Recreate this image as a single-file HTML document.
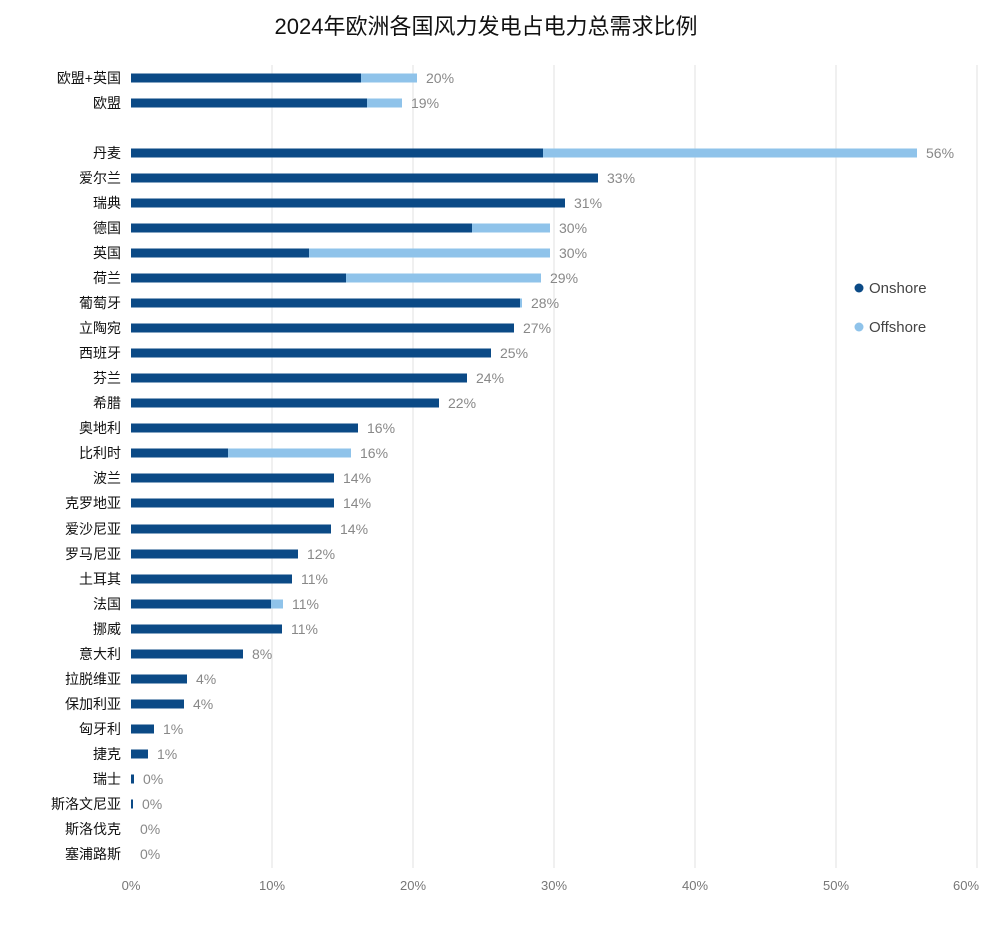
<!DOCTYPE html>
<html><head><meta charset="utf-8"><style>
body{margin:0;background:#fff;}
svg text{font-family:"Liberation Sans","Noto Sans CJK SC",sans-serif;}
.n{font-size:14px;fill:#111;text-anchor:end}
.v{font-size:14px;fill:#888}
</style></head><body>
<svg width="1000" height="922" xmlns="http://www.w3.org/2000/svg">
<text x="486" y="34" font-size="22" text-anchor="middle" fill="#111">2024年欧洲各国风力发电占电力总需求比例</text>
<g stroke="#e2e2e2" stroke-width="1">
<line x1="272" y1="65" x2="272" y2="868"/><line x1="413" y1="65" x2="413" y2="868"/><line x1="554" y1="65" x2="554" y2="868"/><line x1="695" y1="65" x2="695" y2="868"/><line x1="836" y1="65" x2="836" y2="868"/><line x1="977" y1="65" x2="977" y2="868"/>
</g>
<g font-size="13" fill="#777" text-anchor="middle">
<text x="131" y="890">0%</text><text x="272" y="890">10%</text><text x="413" y="890">20%</text><text x="554" y="890">30%</text><text x="695" y="890">40%</text><text x="836" y="890">50%</text><text x="966" y="890">60%</text>
</g>
<g transform="translate(0,78)"><text class="n" x="121" y="5">欧盟+英国</text><rect x="131" y="-4.5" width="286" height="9" fill="#8fc3ea"/><rect x="131" y="-4.5" width="230" height="9" fill="#0b4a86"/><text class="v" x="426" y="5">20%</text></g>
<g transform="translate(0,103)"><text class="n" x="121" y="5">欧盟</text><rect x="131" y="-4.5" width="271" height="9" fill="#8fc3ea"/><rect x="131" y="-4.5" width="236" height="9" fill="#0b4a86"/><text class="v" x="411" y="5">19%</text></g>
<g transform="translate(0,153)"><text class="n" x="121" y="5">丹麦</text><rect x="131" y="-4.5" width="786" height="9" fill="#8fc3ea"/><rect x="131" y="-4.5" width="412" height="9" fill="#0b4a86"/><text class="v" x="926" y="5">56%</text></g>
<g transform="translate(0,178)"><text class="n" x="121" y="5">爱尔兰</text><rect x="131" y="-4.5" width="467" height="9" fill="#0b4a86"/><text class="v" x="607" y="5">33%</text></g>
<g transform="translate(0,203)"><text class="n" x="121" y="5">瑞典</text><rect x="131" y="-4.5" width="434" height="9" fill="#0b4a86"/><text class="v" x="574" y="5">31%</text></g>
<g transform="translate(0,228)"><text class="n" x="121" y="5">德国</text><rect x="131" y="-4.5" width="419" height="9" fill="#8fc3ea"/><rect x="131" y="-4.5" width="341" height="9" fill="#0b4a86"/><text class="v" x="559" y="5">30%</text></g>
<g transform="translate(0,253)"><text class="n" x="121" y="5">英国</text><rect x="131" y="-4.5" width="419" height="9" fill="#8fc3ea"/><rect x="131" y="-4.5" width="178" height="9" fill="#0b4a86"/><text class="v" x="559" y="5">30%</text></g>
<g transform="translate(0,278)"><text class="n" x="121" y="5">荷兰</text><rect x="131" y="-4.5" width="410" height="9" fill="#8fc3ea"/><rect x="131" y="-4.5" width="215" height="9" fill="#0b4a86"/><text class="v" x="550" y="5">29%</text></g>
<g transform="translate(0,303)"><text class="n" x="121" y="5">葡萄牙</text><rect x="131" y="-4.5" width="391" height="9" fill="#8fc3ea"/><rect x="131" y="-4.5" width="389" height="9" fill="#0b4a86"/><text class="v" x="531" y="5">28%</text></g>
<g transform="translate(0,328)"><text class="n" x="121" y="5">立陶宛</text><rect x="131" y="-4.5" width="383" height="9" fill="#0b4a86"/><text class="v" x="523" y="5">27%</text></g>
<g transform="translate(0,353)"><text class="n" x="121" y="5">西班牙</text><rect x="131" y="-4.5" width="360" height="9" fill="#0b4a86"/><text class="v" x="500" y="5">25%</text></g>
<g transform="translate(0,378)"><text class="n" x="121" y="5">芬兰</text><rect x="131" y="-4.5" width="336" height="9" fill="#0b4a86"/><text class="v" x="476" y="5">24%</text></g>
<g transform="translate(0,403)"><text class="n" x="121" y="5">希腊</text><rect x="131" y="-4.5" width="308" height="9" fill="#0b4a86"/><text class="v" x="448" y="5">22%</text></g>
<g transform="translate(0,428)"><text class="n" x="121" y="5">奥地利</text><rect x="131" y="-4.5" width="227" height="9" fill="#0b4a86"/><text class="v" x="367" y="5">16%</text></g>
<g transform="translate(0,453)"><text class="n" x="121" y="5">比利时</text><rect x="131" y="-4.5" width="220" height="9" fill="#8fc3ea"/><rect x="131" y="-4.5" width="97" height="9" fill="#0b4a86"/><text class="v" x="360" y="5">16%</text></g>
<g transform="translate(0,478)"><text class="n" x="121" y="5">波兰</text><rect x="131" y="-4.5" width="203" height="9" fill="#0b4a86"/><text class="v" x="343" y="5">14%</text></g>
<g transform="translate(0,503)"><text class="n" x="121" y="5">克罗地亚</text><rect x="131" y="-4.5" width="203" height="9" fill="#0b4a86"/><text class="v" x="343" y="5">14%</text></g>
<g transform="translate(0,529)"><text class="n" x="121" y="5">爱沙尼亚</text><rect x="131" y="-4.5" width="200" height="9" fill="#0b4a86"/><text class="v" x="340" y="5">14%</text></g>
<g transform="translate(0,554)"><text class="n" x="121" y="5">罗马尼亚</text><rect x="131" y="-4.5" width="167" height="9" fill="#0b4a86"/><text class="v" x="307" y="5">12%</text></g>
<g transform="translate(0,579)"><text class="n" x="121" y="5">土耳其</text><rect x="131" y="-4.5" width="161" height="9" fill="#0b4a86"/><text class="v" x="301" y="5">11%</text></g>
<g transform="translate(0,604)"><text class="n" x="121" y="5">法国</text><rect x="131" y="-4.5" width="152" height="9" fill="#8fc3ea"/><rect x="131" y="-4.5" width="140" height="9" fill="#0b4a86"/><text class="v" x="292" y="5">11%</text></g>
<g transform="translate(0,629)"><text class="n" x="121" y="5">挪威</text><rect x="131" y="-4.5" width="151" height="9" fill="#0b4a86"/><text class="v" x="291" y="5">11%</text></g>
<g transform="translate(0,654)"><text class="n" x="121" y="5">意大利</text><rect x="131" y="-4.5" width="112" height="9" fill="#0b4a86"/><text class="v" x="252" y="5">8%</text></g>
<g transform="translate(0,679)"><text class="n" x="121" y="5">拉脱维亚</text><rect x="131" y="-4.5" width="56" height="9" fill="#0b4a86"/><text class="v" x="196" y="5">4%</text></g>
<g transform="translate(0,704)"><text class="n" x="121" y="5">保加利亚</text><rect x="131" y="-4.5" width="53" height="9" fill="#0b4a86"/><text class="v" x="193" y="5">4%</text></g>
<g transform="translate(0,729)"><text class="n" x="121" y="5">匈牙利</text><rect x="131" y="-4.5" width="23" height="9" fill="#0b4a86"/><text class="v" x="163" y="5">1%</text></g>
<g transform="translate(0,754)"><text class="n" x="121" y="5">捷克</text><rect x="131" y="-4.5" width="17" height="9" fill="#0b4a86"/><text class="v" x="157" y="5">1%</text></g>
<g transform="translate(0,779)"><text class="n" x="121" y="5">瑞士</text><rect x="131" y="-4.5" width="3" height="9" fill="#0b4a86"/><text class="v" x="143" y="5">0%</text></g>
<g transform="translate(0,804)"><text class="n" x="121" y="5">斯洛文尼亚</text><rect x="131" y="-4.5" width="2" height="9" fill="#0b4a86"/><text class="v" x="142" y="5">0%</text></g>
<g transform="translate(0,829)"><text class="n" x="121" y="5">斯洛伐克</text><text class="v" x="140" y="5">0%</text></g>
<g transform="translate(0,854)"><text class="n" x="121" y="5">塞浦路斯</text><text class="v" x="140" y="5">0%</text></g>
<circle cx="859" cy="288" r="4.5" fill="#0b4a86"/><text x="869" y="293" font-size="15" fill="#444">Onshore</text>
<circle cx="859" cy="327" r="4.5" fill="#8fc3ea"/><text x="869" y="332" font-size="15" fill="#444">Offshore</text>
</svg>
</body></html>
